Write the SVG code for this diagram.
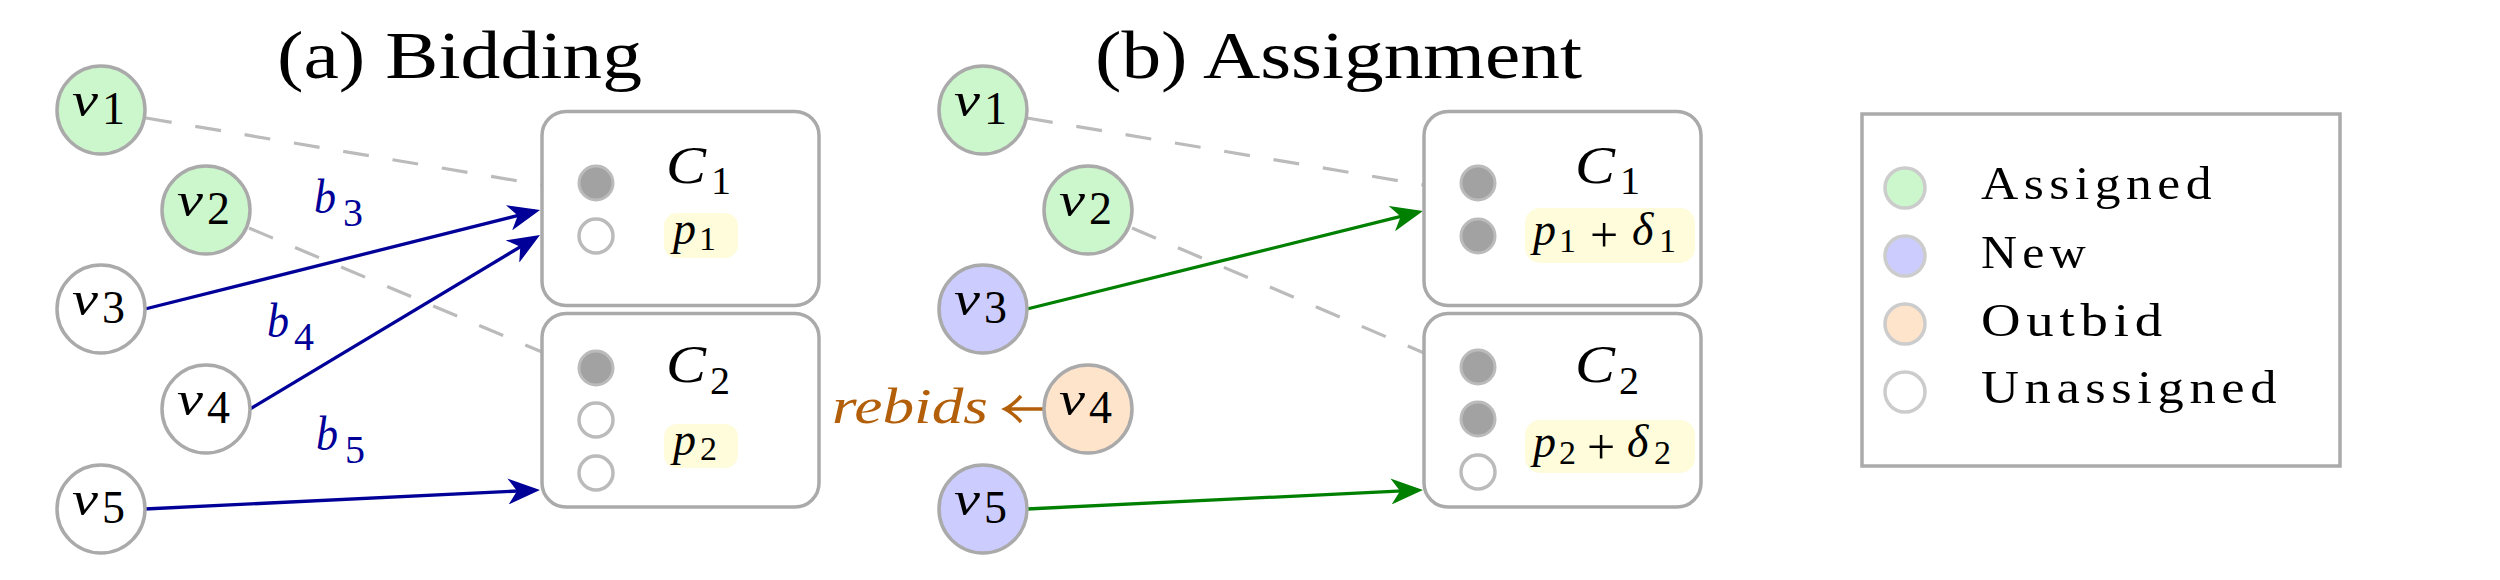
<svg xmlns="http://www.w3.org/2000/svg" width="2500" height="580" viewBox="0 0 2500 580">
<style>
text{font-family:"Liberation Serif","Times New Roman",serif;fill:#000}
.it{font-style:italic}
.title{font-size:68px}
.vn{stroke:#aaaaaa;stroke-width:3.5}
.asg{fill:#ccf7cc}
.new{fill:#ccccff}
.out{fill:#ffe4cc}
.un{fill:#ffffff}
.vl{font-size:48px}
.vs{font-size:46px}
.box{fill:#ffffff;stroke:#aaaaaa;stroke-width:3.5}
.sf{fill:#a2a2a2;stroke:#bbbbbb;stroke-width:3}
.se{fill:#ffffff;stroke:#bbbbbb;stroke-width:3.5}
.cl{font-size:52px}
.cs{font-size:40px}
.hl{fill:#fefcdb}
.pl{font-size:46px}
.ps{font-size:34px}
.pp{font-size:50px}
.dash{stroke:#bbbbbb;stroke-width:3.2;stroke-dasharray:26 24;fill:none}
.bid{stroke:#000099;stroke-width:3.3;fill:none}
.asn{stroke:#008000;stroke-width:3.3;fill:none}
.bl{font-size:48px;fill:#000099}
.bs{font-size:40px;fill:#000099}
.reb{stroke:#b35f0a;stroke-width:3.5;fill:none}
.lg{font-size:47px;letter-spacing:5px}
.lc{stroke:#cccccc;stroke-width:3.5}
</style>
<defs>
<marker id="ab" viewBox="0 0 32 26" refX="27" refY="13" markerWidth="32" markerHeight="26" markerUnits="userSpaceOnUse" orient="auto"><path d="M0,0 L32,13 L0,26 L9,13 z" fill="#000099"/></marker>
<marker id="ag" viewBox="0 0 32 26" refX="27" refY="13" markerWidth="32" markerHeight="26" markerUnits="userSpaceOnUse" orient="auto"><path d="M0,0 L32,13 L0,26 L9,13 z" fill="#008000"/></marker>
</defs>
<rect width="2500" height="580" fill="#ffffff"/>

<text id="title-a" class="title" x="277" y="78" textLength="365" lengthAdjust="spacingAndGlyphs">(a) Bidding</text>
<text id="title-b" class="title" x="1095" y="78" textLength="487" lengthAdjust="spacingAndGlyphs">(b) Assignment</text>

<g id="connectors">
<path class="dash" d="M146,118 L542,185"/>
<path class="dash" d="M249,228 L542,352"/>
<path class="bid" d="M145,309 L535.2,211.2" marker-end="url(#ab)"/>
<path class="bid" d="M250,409 L535.7,237.6" marker-end="url(#ab)"/>
<path class="bid" d="M145,509 L535,490.2" marker-end="url(#ab)"/>
<text class="bl it" x="314" y="213" textLength="22" lengthAdjust="spacingAndGlyphs">b</text><text class="bs" x="343" y="226">3</text>
<text class="bl it" x="267" y="337" textLength="22" lengthAdjust="spacingAndGlyphs">b</text><text class="bs" x="294" y="350">4</text>
<text class="bl it" x="316" y="450" textLength="22" lengthAdjust="spacingAndGlyphs">b</text><text class="bs" x="345" y="463">5</text>
<path class="dash" d="M1027,118 L1424,185"/>
<path class="dash" d="M1132,228 L1424,353"/>
<path class="asn" d="M1027,309 L1418.1,212.2" marker-end="url(#ag)"/>
<path class="asn" d="M1027,509 L1418,490.2" marker-end="url(#ag)"/>
<path class="reb" d="M1043,409 L1007,409 M1021,396 Q1013,405 1005,409 Q1013,413 1021,422"/>
<text class="it" x="832" y="423" font-size="50" style="fill:#b35f0a" textLength="156" lengthAdjust="spacingAndGlyphs">rebids</text>
</g>

<g id="a-v1"><circle class="vn asg" cx="101" cy="110" r="44"/><text class="vl it" x="72" y="116" textLength="26" lengthAdjust="spacingAndGlyphs">v</text><text class="vs" x="102" y="124">1</text></g>
<g id="a-v2"><circle class="vn asg" cx="206" cy="210" r="44"/><text class="vl it" x="177" y="216" textLength="26" lengthAdjust="spacingAndGlyphs">v</text><text class="vs" x="207" y="224">2</text></g>
<g id="a-v3"><circle class="vn un" cx="101" cy="309" r="44"/><text class="vl it" x="72" y="315" textLength="26" lengthAdjust="spacingAndGlyphs">v</text><text class="vs" x="102" y="323">3</text></g>
<g id="a-v4"><circle class="vn un" cx="206" cy="409" r="44"/><text class="vl it" x="177" y="415" textLength="26" lengthAdjust="spacingAndGlyphs">v</text><text class="vs" x="207" y="423">4</text></g>
<g id="a-v5"><circle class="vn un" cx="101" cy="509" r="44"/><text class="vl it" x="72" y="515" textLength="26" lengthAdjust="spacingAndGlyphs">v</text><text class="vs" x="102" y="523">5</text></g>

<g id="a-C1">
<rect class="box" x="542" y="111.5" width="277" height="194" rx="24"/>
<circle class="sf" cx="596" cy="183" r="17"/>
<circle class="se" cx="596" cy="236" r="17"/>
<text class="cl it" x="666" y="183" textLength="40" lengthAdjust="spacingAndGlyphs">C</text><text class="cs" x="711" y="194">1</text>
<rect class="hl" x="664" y="213" width="74" height="45" rx="13"/>
<text class="pl it" x="673" y="244">p</text><text class="ps" x="699" y="250">1</text>
</g>
<g id="a-C2">
<rect class="box" x="542" y="313.5" width="277" height="193.5" rx="24"/>
<circle class="sf" cx="596" cy="368" r="17"/>
<circle class="se" cx="596" cy="420" r="17"/>
<circle class="se" cx="596" cy="473" r="17"/>
<text class="cl it" x="666" y="382" textLength="40" lengthAdjust="spacingAndGlyphs">C</text><text class="cs" x="710" y="394">2</text>
<rect class="hl" x="664" y="424" width="74" height="44" rx="13"/>
<text class="pl it" x="673" y="455">p</text><text class="ps" x="700" y="460">2</text>
</g>

<g id="b-v1"><circle class="vn asg" cx="983" cy="110" r="44"/><text class="vl it" x="954" y="116" textLength="26" lengthAdjust="spacingAndGlyphs">v</text><text class="vs" x="984" y="124">1</text></g>
<g id="b-v2"><circle class="vn asg" cx="1088" cy="210" r="44"/><text class="vl it" x="1059" y="216" textLength="26" lengthAdjust="spacingAndGlyphs">v</text><text class="vs" x="1089" y="224">2</text></g>
<g id="b-v3"><circle class="vn new" cx="983" cy="309" r="44"/><text class="vl it" x="954" y="315" textLength="26" lengthAdjust="spacingAndGlyphs">v</text><text class="vs" x="984" y="323">3</text></g>
<g id="b-v4"><circle class="vn out" cx="1088" cy="409" r="44"/><text class="vl it" x="1059" y="415" textLength="26" lengthAdjust="spacingAndGlyphs">v</text><text class="vs" x="1089" y="423">4</text></g>
<g id="b-v5"><circle class="vn new" cx="983" cy="509" r="44"/><text class="vl it" x="954" y="515" textLength="26" lengthAdjust="spacingAndGlyphs">v</text><text class="vs" x="984" y="523">5</text></g>

<g id="b-C1">
<rect class="box" x="1424" y="111.5" width="277" height="194" rx="24"/>
<circle class="sf" cx="1478" cy="183" r="17"/>
<circle class="sf" cx="1478" cy="236" r="17"/>
<text class="cl it" x="1575" y="183" textLength="40" lengthAdjust="spacingAndGlyphs">C</text><text class="cs" x="1620" y="194">1</text>
<rect class="hl" x="1525" y="208" width="170" height="55" rx="15"/>
<text class="pl it" x="1533" y="245">p</text><text class="ps" x="1559" y="252">1</text>
<text class="pp" x="1590" y="252">+</text>
<text class="pl it" x="1632" y="245">δ</text><text class="ps" x="1659" y="252">1</text>
</g>
<g id="b-C2">
<rect class="box" x="1424" y="313.5" width="277" height="193.5" rx="24"/>
<circle class="sf" cx="1478" cy="367" r="17"/>
<circle class="sf" cx="1478" cy="419" r="17"/>
<circle class="se" cx="1478" cy="472" r="17"/>
<text class="cl it" x="1575" y="382" textLength="40" lengthAdjust="spacingAndGlyphs">C</text><text class="cs" x="1619" y="394">2</text>
<rect class="hl" x="1525" y="420" width="170" height="53" rx="15"/>
<text class="pl it" x="1533" y="457">p</text><text class="ps" x="1559" y="464">2</text>
<text class="pp" x="1587" y="464">+</text>
<text class="pl it" x="1627" y="457">δ</text><text class="ps" x="1654" y="464">2</text>
</g>

<g id="legend">
<rect x="1862" y="114" width="478" height="352" fill="#ffffff" stroke="#aaaaaa" stroke-width="3.5"/>
<circle class="lc asg" cx="1905" cy="188" r="20"/>
<text class="lg" x="1981" y="199" textLength="236" lengthAdjust="spacingAndGlyphs">Assigned</text>
<circle class="lc new" cx="1905" cy="256" r="20"/>
<text class="lg" x="1981" y="268" textLength="110" lengthAdjust="spacingAndGlyphs">New</text>
<circle class="lc out" cx="1905" cy="324" r="20"/>
<text class="lg" x="1981" y="336" textLength="187" lengthAdjust="spacingAndGlyphs">Outbid</text>
<circle class="lc un" cx="1905" cy="392" r="20"/>
<text class="lg" x="1981" y="403" textLength="301" lengthAdjust="spacingAndGlyphs">Unassigned</text>
</g>
</svg>
